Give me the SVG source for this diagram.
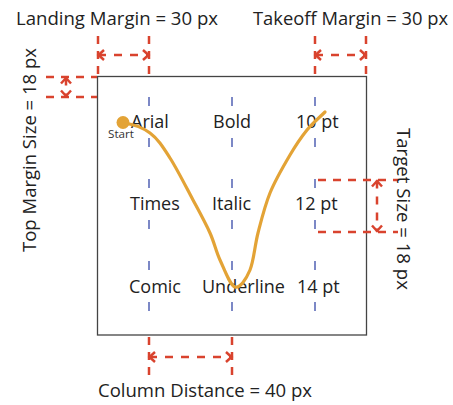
<svg xmlns="http://www.w3.org/2000/svg" width="453" height="405" viewBox="0 0 453 405">
<style>
.t{font-family:"Open Sans","Liberation Sans",sans-serif;font-size:18px;fill:#222}
.ttl{font-family:"Open Sans","Liberation Sans",sans-serif;font-size:17.5px;fill:#222}
.col{stroke:#5262b4;stroke-width:1.5;stroke-dasharray:9 32;fill:none}
.red{stroke:#d9432e;stroke-width:2.5;stroke-dasharray:8 7;fill:none}
.arr{stroke:#d9432e;stroke-width:2.5;stroke-dasharray:8 8;fill:none;marker-start:url(#chev);marker-end:url(#chev)}
</style>
<defs>
<marker id="chev" markerUnits="userSpaceOnUse" markerWidth="12" markerHeight="14" viewBox="-9 -7 12 14" refX="0" refY="0" orient="auto-start-reverse" overflow="visible">
<path d="M-6,-5 L-0.5,0 L-6,5" fill="none" stroke="#d9432e" stroke-width="2.5"/>
</marker>
</defs>
<rect width="453" height="405" fill="#ffffff"/>
<g id="frame">
<rect x="97.5" y="76.5" width="269" height="258.5" fill="none" stroke="#444" stroke-width="1.3"/>
</g>
<g id="columns">
<line class="col" x1="149" y1="97" x2="149" y2="313"/>
<line class="col" x1="232" y1="97" x2="232" y2="313"/>
<line class="col" x1="315" y1="97" x2="315" y2="313"/>
</g>
<g id="cells">
<text class="t" x="131" y="128">Arial</text>
<text class="t" x="213" y="128">Bold</text>
<text class="t" x="296" y="128">10 pt</text>
<text class="t" x="130" y="210">Times</text>
<text class="t" x="212" y="210">Italic</text>
<text class="t" x="295" y="210">12 pt</text>
<text class="t" x="129" y="293">Comic</text>
<text class="t" x="202" y="293">Underline</text>
<text class="t" x="297" y="293">14 pt</text>
</g>
<g id="gesture">
<path d="M123,123 C132,124 142.2,127.2 150,133 C157.8,138.8 162.8,146.8 170,158 C177.2,169.2 186.3,187.5 193,200 C199.7,212.5 205.5,223 210,233 C214.5,243 215.8,251 220,260 C224.2,269 230,285.3 235,287 C240,288.7 246.2,279 250,270 C253.8,261 254.7,245.8 258,233 C261.3,220.2 264.7,206 270,193 C275.3,180 283.8,165.5 290,155 C296.2,144.5 301.2,137.2 307,130 C312.8,122.8 319,118 325,112" fill="none" stroke="#e3a336" stroke-width="3.2" stroke-linecap="round"/>
<circle cx="123" cy="122.5" r="6.5" fill="#e3a336"/>
<text x="108" y="138" font-family="'Open Sans','Liberation Sans',sans-serif" font-size="11" fill="#333" textLength="26" lengthAdjust="spacingAndGlyphs">Start</text>
</g>
<g id="connectors">
<line class="red" x1="98" y1="36" x2="98" y2="76"/>
<line class="red" x1="149" y1="36" x2="149" y2="76"/>
<line class="arr" x1="98" y1="55" x2="149" y2="55"/>
<line class="red" x1="315" y1="36" x2="315" y2="76"/>
<line class="red" x1="366" y1="36" x2="366" y2="76"/>
<line class="arr" x1="315" y1="55" x2="366" y2="55"/>
<line class="red" x1="46" y1="77" x2="97" y2="77"/>
<line class="red" x1="46" y1="97" x2="97" y2="97"/>
<line class="arr" x1="66" y1="77.5" x2="66" y2="96.5"/>
<line class="red" x1="318" y1="180" x2="398" y2="180"/>
<line class="red" x1="318" y1="232" x2="398" y2="232"/>
<line class="arr" x1="377" y1="180.5" x2="377" y2="231.5"/>
<line class="red" x1="149" y1="337" x2="149" y2="378"/>
<line class="red" x1="232" y1="337" x2="232" y2="378"/>
<line class="arr" x1="149" y1="357" x2="232" y2="357"/>
</g>
<g id="titles">
<text class="ttl" x="16" y="25" textLength="202" lengthAdjust="spacingAndGlyphs">Landing Margin = 30 px</text>
<text class="ttl" x="253" y="25" textLength="195" lengthAdjust="spacingAndGlyphs">Takeoff Margin = 30 px</text>
<text class="ttl" x="98" y="397" textLength="214" lengthAdjust="spacingAndGlyphs">Column Distance = 40 px</text>
<text class="ttl" x="35.5" y="252" transform="rotate(-90 35.5 252)" textLength="204" lengthAdjust="spacingAndGlyphs">Top Margin Size = 18 px</text>
<text class="ttl" x="397" y="128" transform="rotate(90 397 128)" textLength="162" lengthAdjust="spacingAndGlyphs">Target Size = 18 px</text>
</g>
</svg>
